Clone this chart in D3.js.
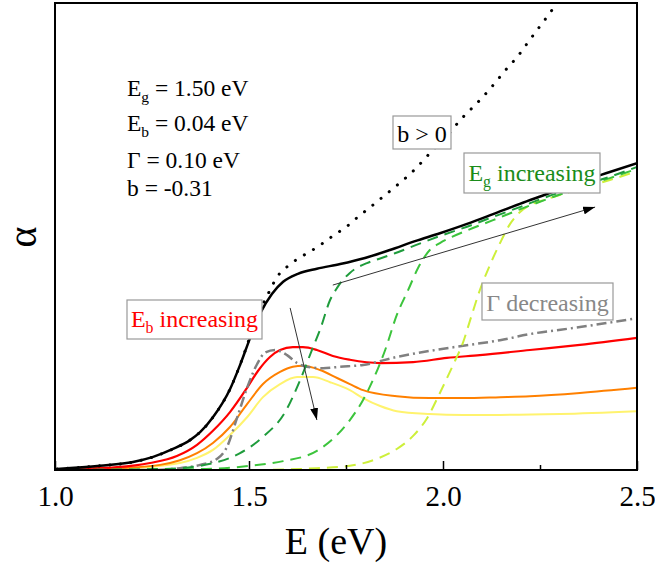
<!DOCTYPE html>
<html>
<head>
<meta charset="utf-8">
<script src="https://cdn.jsdelivr.net/npm/d3@7"></script>
<style>
  body { margin: 0; background: #fff; }
  svg { display: block; }
  text { font-family: "Liberation Serif", "Times New Roman", serif; }
</style>
</head>
<body>
<svg id="chart" width="655" height="565"></svg>
<script>
// Photon energy E (eV) vs absorption coefficient α (arb. units), [E, α] pairs.
// Reference curve: Eg = 1.50 eV, Eb = 0.04 eV, Γ = 0.10 eV, b = -0.31
const baseCurve = [
  [1.005,0.02],[1.116,0.09],[1.201,0.17],[1.253,0.28],[1.304,0.45],[1.348,0.64],
  [1.374,0.81],[1.407,1.13],[1.451,1.73],[1.477,2.25],[1.503,2.83],[1.528,3.34],
  [1.559,3.77],[1.588,4.03],[1.626,4.20],[1.675,4.31],[1.735,4.41],[1.799,4.54],
  [1.863,4.71],[1.928,4.90],[1.992,5.07],[2.062,5.27],[2.129,5.48],[2.198,5.70],
  [2.268,5.91],[2.353,6.17],[2.430,6.38],[2.500,6.57]
];
// Same parameters with positive non-parabolicity (b > 0)
const positiveB = [
  [1.005,0.02],[1.116,0.09],[1.201,0.17],[1.253,0.28],[1.304,0.45],[1.348,0.64],
  [1.374,0.81],[1.407,1.13],[1.451,1.73],[1.477,2.25],[1.503,2.86],[1.528,3.40],
  [1.554,3.85],[1.572,4.13],[1.598,4.35],[1.629,4.54],[1.660,4.69],[1.691,4.86],
  [1.719,5.03],[1.750,5.20],[1.778,5.40],[1.807,5.59],[1.835,5.78],[1.863,5.97],
  [1.892,6.17],[1.918,6.36],[1.946,6.60],[1.969,6.81],[2.021,7.26],[2.044,7.49],
  [2.070,7.71],[2.095,7.92],[2.121,8.16],[2.144,8.39],[2.168,8.63],[2.191,8.84],
  [2.214,9.10],[2.237,9.36],[2.258,9.59],[2.281,9.85],[2.300,10.10]
];
// Increasing exciton binding energy Eb
const ebLow = [
  [1.005,0.01],[1.160,0.06],[1.245,0.15],[1.314,0.30],[1.366,0.54],[1.407,0.84],
  [1.451,1.24],[1.495,1.76],[1.523,2.12],[1.554,2.42],[1.580,2.57],[1.613,2.63],
  [1.639,2.63],[1.675,2.57],[1.716,2.44],[1.760,2.36],[1.838,2.29],[1.923,2.31],
  [2.010,2.40],[2.095,2.46],[2.224,2.57],[2.353,2.68],[2.500,2.83]
];
const ebMid = [
  [1.005,0.00],[1.168,0.04],[1.271,0.11],[1.322,0.21],[1.366,0.36],[1.407,0.58],
  [1.451,0.92],[1.495,1.41],[1.536,1.84],[1.580,2.10],[1.613,2.21],[1.639,2.23],
  [1.683,2.14],[1.727,1.97],[1.760,1.84],[1.794,1.71],[1.881,1.58],[1.966,1.54],
  [2.052,1.54],[2.147,1.56],[2.224,1.58],[2.353,1.65],[2.500,1.76]
];
const ebHigh = [
  [1.005,0.00],[1.193,0.04],[1.322,0.15],[1.366,0.26],[1.407,0.43],[1.451,0.75],
  [1.495,1.13],[1.536,1.56],[1.580,1.84],[1.624,1.99],[1.665,1.99],[1.709,1.88],
  [1.760,1.71],[1.794,1.54],[1.838,1.37],[1.881,1.26],[1.966,1.20],[2.052,1.18],
  [2.147,1.18],[2.302,1.20],[2.500,1.26]
];
// Decreasing broadening Γ
const gammaLow = [
  [1.005,0.00],[1.245,0.00],[1.322,0.04],[1.374,0.11],[1.418,0.24],[1.443,0.49],
  [1.469,1.11],[1.495,1.76],[1.521,2.27],[1.541,2.51],[1.567,2.57],[1.598,2.46],
  [1.624,2.29],[1.649,2.21],[1.691,2.18],[1.735,2.21],[1.794,2.25],[1.881,2.42],
  [1.966,2.55],[2.052,2.66],[2.147,2.78],[2.224,2.91],[2.353,3.06],[2.500,3.25]
];
// Increasing band gap Eg
const egStep1 = [
  [1.005,0.00],[1.271,0.02],[1.374,0.09],[1.418,0.17],[1.477,0.36],[1.536,0.71],
  [1.593,1.24],[1.631,1.91],[1.665,2.63],[1.683,3.00],[1.709,3.64],[1.727,3.90],
  [1.742,4.07],[1.760,4.22],[1.778,4.33],[1.804,4.43],[1.838,4.53],[1.876,4.64],
  [1.928,4.81],[1.992,5.01],[2.062,5.21],[2.129,5.42],[2.198,5.63],[2.268,5.85],
  [2.353,6.08],[2.430,6.28],[2.500,6.49]
];
const egStep2 = [
  [1.005,0.00],[1.374,0.02],[1.503,0.09],[1.588,0.19],[1.675,0.41],[1.722,0.71],
  [1.760,1.07],[1.794,1.50],[1.825,2.03],[1.851,2.57],[1.881,3.32],[1.910,3.85],
  [1.936,4.33],[1.966,4.71],[1.992,4.86],[2.023,4.99],[2.062,5.13],[2.129,5.35],
  [2.198,5.58],[2.268,5.80],[2.353,6.05],[2.430,6.25],[2.500,6.45]
];
const egStep3 = [
  [1.005,0.00],[1.503,0.00],[1.675,0.04],[1.760,0.09],[1.830,0.24],[1.881,0.45],
  [1.923,0.73],[1.959,1.11],[1.992,1.65],[2.026,2.25],[2.052,2.74],[2.070,3.21],
  [2.095,3.85],[2.121,4.39],[2.147,4.86],[2.173,5.27],[2.198,5.52],[2.224,5.67],
  [2.268,5.80],[2.353,6.02],[2.430,6.21],[2.500,6.40]
];

const xTicks = [1.0, 1.5, 2.0, 2.5];
const xMinorTicks = [1.25, 1.75, 2.25];

// Trend arrows, [start, end] in data units
const ebArrow = [[1.606,3.47],[1.675,1.07]];
const egArrow = [[1.716,3.96],[2.392,5.63]];

const svg = d3.select("#chart");
const L = 55, R = 637, T = 3, B = 470;
const x = d3.scaleLinear().domain([1.0, 2.5]).range([L, R]);
const y = d3.scaleLinear().domain([0, 10]).range([B, T]);

const defs = svg.append("defs");
defs.append("clipPath").attr("id", "plotClip")
  .append("rect").attr("x", L).attr("y", T).attr("width", R - L).attr("height", B - T);
defs.append("marker").attr("id", "arrowHead")
  .attr("viewBox", "0 0 12 8").attr("refX", 12).attr("refY", 4)
  .attr("markerWidth", 12).attr("markerHeight", 8)
  .attr("markerUnits", "userSpaceOnUse").attr("orient", "auto")
  .append("path").attr("d", "M0,0 L12,4 L0,8 Z").attr("fill", "#000");

const line = d3.line().x(d => x(d[0])).y(d => y(d[1])).curve(d3.curveMonotoneX);

const series = [
  { data: ebHigh,    color: "#fff36e", width: 2,   dash: null },
  { data: ebMid,     color: "#ff8000", width: 2,   dash: null },
  { data: ebLow,     color: "#ff0000", width: 2.2, dash: null },
  { data: gammaLow,  color: "#808080", width: 2.5, dash: "10,4,2,4" },
  { data: egStep3,   color: "#cdef3a", width: 2,   dash: "11,7" },
  { data: egStep2,   color: "#3cc43c", width: 2,   dash: "11,7" },
  { data: egStep1,   color: "#1f9c3c", width: 2,   dash: "11,7" },
  { data: positiveB, color: "#000000", width: 3,   dash: "0.1,10.5", cap: "round" },
  { data: baseCurve, color: "#000000", width: 2.5, dash: null }
];

const plot = svg.append("g").attr("clip-path", "url(#plotClip)");
plot.selectAll("path.curve").data(series).join("path")
  .attr("class", "curve")
  .attr("d", s => line(s.data))
  .attr("fill", "none")
  .attr("stroke", s => s.color)
  .attr("stroke-width", s => s.width)
  .attr("stroke-dasharray", s => s.dash)
  .attr("stroke-linecap", s => s.cap || "butt");

// Trend arrows
[ebArrow, egArrow].forEach(a => {
  svg.append("line")
    .attr("x1", x(a[0][0])).attr("y1", y(a[0][1]))
    .attr("x2", x(a[1][0])).attr("y2", y(a[1][1]))
    .attr("stroke", "#333").attr("stroke-width", 1)
    .attr("marker-end", "url(#arrowHead)");
});

// Text with an optional subscript
function richText(g, parts, fs) {
  const t = g.append("text").attr("font-size", fs);
  const shift = fs * 0.24;
  parts.forEach(p => {
    if (p.sub) {
      t.append("tspan").attr("font-size", fs * 0.66).attr("dy", shift).text(p.sub);
    } else {
      t.append("tspan").attr("dy", p.after ? -shift : 0).text(p.text);
    }
  });
  return t;
}

// Parameter block
const params = [
  { parts: [{text: "E"}, {sub: "g"}, {text: " = 1.50 eV", after: true}], yb: 96 },
  { parts: [{text: "E"}, {sub: "b"}, {text: " = 0.04 eV", after: true}], yb: 131 },
  { parts: [{text: "Γ = 0.10 eV"}], yb: 168 },
  { parts: [{text: "b = -0.31"}], yb: 196 }
];
params.forEach(p => {
  richText(svg, p.parts, 23.5).attr("x", 127).attr("y", p.yb).attr("fill", "#000");
});

// Boxed labels
const boxes = [
  { x0: 393, y0: 116, x1: 451, y1: 149, yb: 142, color: "#000",
    parts: [{text: "b > 0"}] },
  { x0: 464, y0: 153, x1: 600, y1: 193, yb: 181, color: "#1a8c1a",
    parts: [{text: "E"}, {sub: "g"}, {text: " increasing", after: true}] },
  { x0: 127, y0: 300, x1: 262, y1: 339, yb: 327, color: "#ff0000",
    parts: [{text: "E"}, {sub: "b"}, {text: " increasing", after: true}] },
  { x0: 482, y0: 283, x1: 613, y1: 320, yb: 311, color: "#888888",
    parts: [{text: "Γ decreasing"}] }
];
boxes.forEach(b => {
  svg.append("rect").attr("x", b.x0).attr("y", b.y0)
    .attr("width", b.x1 - b.x0).attr("height", b.y1 - b.y0)
    .attr("fill", "#fff").attr("stroke", "#999").attr("stroke-width", 1.2);
  richText(svg, b.parts, 24).attr("x", (b.x0 + b.x1) / 2).attr("y", b.yb)
    .attr("text-anchor", "middle").attr("fill", b.color);
});

// Axes
const xAxis = svg.append("g").attr("transform", `translate(0,${B})`)
  .call(d3.axisBottom(x).tickValues(xTicks).tickSize(-9).tickPadding(15)
    .tickFormat(d3.format(".1f")));
xAxis.select(".domain").remove();
xAxis.selectAll(".tick line").attr("stroke", "#000").attr("stroke-width", 1.5);
xAxis.selectAll(".tick text").attr("font-size", 29)
  .attr("font-family", "Liberation Serif, serif").attr("fill", "#000");

const xMinor = svg.append("g").attr("transform", `translate(0,${B})`)
  .call(d3.axisBottom(x).tickValues(xMinorTicks).tickSize(-5).tickFormat(""));
xMinor.select(".domain").remove();
xMinor.selectAll(".tick line").attr("stroke", "#000").attr("stroke-width", 1.5);

// Frame
svg.append("rect").attr("x", L).attr("y", T).attr("width", R - L).attr("height", B - T)
  .attr("fill", "none").attr("stroke", "#000").attr("stroke-width", 2);

// Axis titles
svg.append("text").attr("x", 336).attr("y", 554).attr("text-anchor", "middle")
  .attr("font-size", 38).text("E (eV)");
svg.append("text").attr("transform", "translate(36,237) rotate(-90)")
  .attr("text-anchor", "middle").attr("font-size", 40).text("α");
</script>
</body>
</html>
